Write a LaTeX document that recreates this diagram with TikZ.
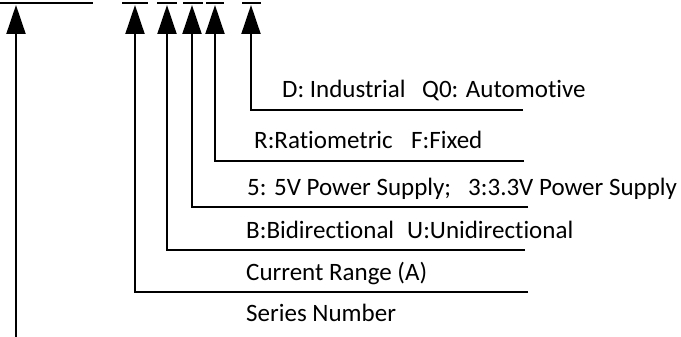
\documentclass[tikz,border=0pt]{standalone}
\usepackage{fontspec}
\setmainfont[Ligatures=NoCommon]{Carlito}
\usetikzlibrary{arrows.meta}
\begin{document}
\begin{tikzpicture}[x=1pt,y=-1pt,
  ln/.style={line width=2pt},
  arr/.style={line width=2pt,-{Triangle[length=29pt,width=19pt]}},
  lbl/.style={anchor=base west,inner sep=0pt,font=\fontsize{25}{30}\selectfont}]
\useasboundingbox (0,0) rectangle (681,337);
% top bars
\draw[ln] (0,3) -- (93,3);
\draw[ln] (122,3) -- (148,3);
\draw[ln] (157,3) -- (177,3);
\draw[ln] (183,3) -- (203,3);
\draw[ln] (206,3) -- (224,3);
\draw[ln] (242,3) -- (261,3);
% arrow targets
\coordinate (t1) at (16,5);
\coordinate (t2) at (135,5);
\coordinate (t3) at (167,5);
\coordinate (t4) at (192,5);
\coordinate (t5) at (215,5);
\coordinate (t6) at (251,5);
% free ends
\coordinate (e1) at (16,337);
\coordinate (e2) at (528,292);
\coordinate (e3) at (525,250);
\coordinate (e4) at (528,207);
\coordinate (e5) at (524,161);
\coordinate (e6) at (523,110);
\draw[arr] (e1) -- (t1);
\draw[arr] (e2) -| (t2);
\draw[arr] (e3) -| (t3);
\draw[arr] (e4) -| (t4);
\draw[arr] (e5) -| (t5);
\draw[arr] (e6) -| (t6);
% labels
\node[lbl] (l6a) at (282,98) {D: Industrial};
\node[lbl] (l6b) at (422,98) {Q0: Automotive};
\node[lbl] (l5a) at (254,149) {R:Ratiometric};
\node[lbl] (l5b) at (411,149) {F:Fixed};
\node[lbl] (l4a) at (247,195) {5: 5V Power Supply;};
\node[lbl] (l4b) at (468,195) {3:3.3V Power Supply};
\node[lbl] (l3a) at (246,238) {B:Bidirectional};
\node[lbl] (l3b) at (407,238) {U:Unidirectional};
\node[lbl] (l2) at (246,280) {Current Range (A)};
\node[lbl] (l1) at (246,321) {Series Number};
\end{tikzpicture}
\end{document}
